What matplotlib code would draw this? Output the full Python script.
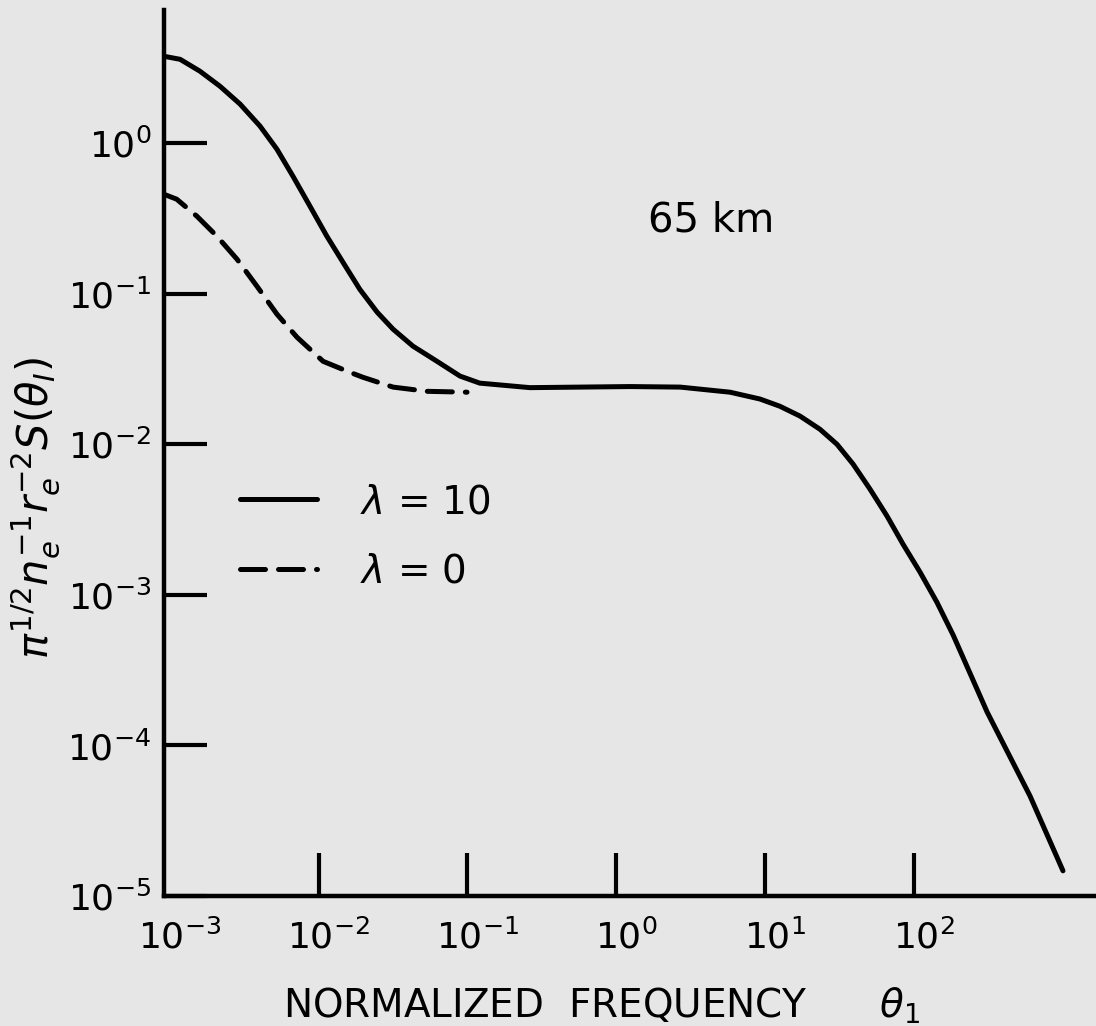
import numpy as np
import matplotlib
matplotlib.use("Agg")
import matplotlib.pyplot as plt
import matplotlib.ticker as ticker
import matplotlib.transforms as mtransforms

plt.rcParams.update({'font.family': 'DejaVu Sans', 'mathtext.fontset': 'dejavusans'})

# lambda = 10 curve
theta_l10 = [9.12e-4, 1.17e-3, 1.59e-3, 2.17e-3, 2.96e-3, 4.03e-3, 5.24e-3,
             6.71e-3, 8.73e-3, 1.135e-2, 1.455e-2, 1.89e-2, 2.47e-2, 3.16e-2,
             4.30e-2, 6.24e-2, 8.91e-2, 0.121, 0.263, 0.570, 1.24, 2.69, 5.82,
             9.25, 12.6, 17.2, 23.4, 30.5, 39.1, 50.8, 66.1, 84.7, 110.0,
             143.0, 184.0, 311.0, 605.0, 1007.0]
s_l10 = [3.78, 3.61, 3.01, 2.39, 1.82, 1.30, 0.912,
         0.604, 0.382, 0.241, 0.162, 0.107, 0.0755, 0.0582,
         0.0449, 0.0356, 0.0284, 0.0255, 0.0238, 0.0240, 0.0242, 0.0240, 0.0222,
         0.0200, 0.0179, 0.0154, 0.0126, 0.0100, 0.00739, 0.00504, 0.00334,
         0.00217, 0.00142, 8.95e-4, 5.41e-4, 1.67e-4, 4.61e-5, 1.47e-5]

# lambda = 0 curve
theta_l0 = [9.12e-4, 1.11e-3, 1.52e-3, 2.07e-3, 2.82e-3, 3.85e-3, 5.24e-3,
            7.14e-3, 1.07e-2, 1.62e-2, 1.98e-2, 3.16e-2, 5.35e-2, 9.93e-2]
s_l0 = [0.458, 0.425, 0.327, 0.241, 0.170, 0.112, 0.0732,
        0.0515, 0.0356, 0.0301, 0.0279, 0.0240, 0.0225, 0.0222]

xticks = [1e-3, 1e-2, 1e-1, 1e0, 1e1, 1e2]
xticklabels = [r'$10^{-3}$', r'$10^{-2}$', r'$10^{-1}$', r'$10^{0}$', r'$10^{1}$', r'$10^{2}$']
yticks = [1e-5, 1e-4, 1e-3, 1e-2, 1e-1, 1e0]
yticklabels = [r'$10^{-5}$', r'$10^{-4}$', r'$10^{-3}$', r'$10^{-2}$', r'$10^{-1}$', r'$10^{0}$']

W, H = 1096, 1026
bg = '#e6e6e6'
fig = plt.figure(figsize=(W / 100, H / 100), dpi=100, facecolor=bg)
ax = fig.add_axes([164 / W, 130 / H, (W - 164) / W, 886 / H])
ax.set_facecolor(bg)

ax.plot(theta_l10, s_l10, color='black', lw=3.6, solid_capstyle='round',
        solid_joinstyle='round', label=r'$\lambda$ = 10')
ax.plot(theta_l0, s_l0, color='black', lw=3.6, linestyle=(0, (5, 2.6)),
        dash_capstyle='round', label=r'$\lambda$ = 0')

ax.set_xscale('log')
ax.set_yscale('log')
ax.set_xlim(10 ** -3.04, 10 ** 3.225)
ax.set_ylim(1e-5, 10 ** 0.885)

ax.spines['top'].set_visible(False)
ax.spines['right'].set_visible(False)
for s in ['left', 'bottom']:
    ax.spines[s].set_linewidth(3.2)

ax.set_xticks(xticks)
ax.set_xticklabels(xticklabels)
ax.set_yticks(yticks)
ax.set_yticklabels(yticklabels)
ax.xaxis.set_minor_locator(ticker.NullLocator())
ax.yaxis.set_minor_locator(ticker.NullLocator())
ax.tick_params(axis='both', direction='in', length=31, width=3.0, labelsize=26)
ax.tick_params(axis='x', pad=17)
ax.tick_params(axis='y', pad=9)
# the 10^-3 tick sits on the corner, only its label shows
ax.xaxis.get_major_ticks()[0].tick1line.set_visible(False)

# shift x tick labels slightly right like in the original
offset = mtransforms.ScaledTranslation(10 / 100, 0, fig.dpi_scale_trans)
for lbl in ax.get_xticklabels():
    lbl.set_transform(lbl.get_transform() + offset)

leg = ax.legend(loc='upper left', bbox_to_anchor=(240 / W, 1 - 483 / H),
                bbox_transform=fig.transFigure, frameon=False, fontsize=28,
                handlelength=1.98, handletextpad=1.1, labelspacing=0.8,
                borderpad=0, borderaxespad=0)

fig.text(648 / W, 1 - 232 / H, '65 km', fontsize=29, ha='left', va='baseline')

fig.text(35 / W, 1 - 508 / H, r'$\pi^{1/2}n_e^{-1}r_e^{-2}S(\theta_I)$',
         rotation=90, fontsize=30, ha='center', va='center')

fig.text(283 / W, 1 - 1018 / H, r'NORMALIZED  FREQUENCY      $\theta_1$',
         fontsize=28, ha='left', va='baseline')

fig.savefig('out.png', dpi=100, facecolor=bg)
